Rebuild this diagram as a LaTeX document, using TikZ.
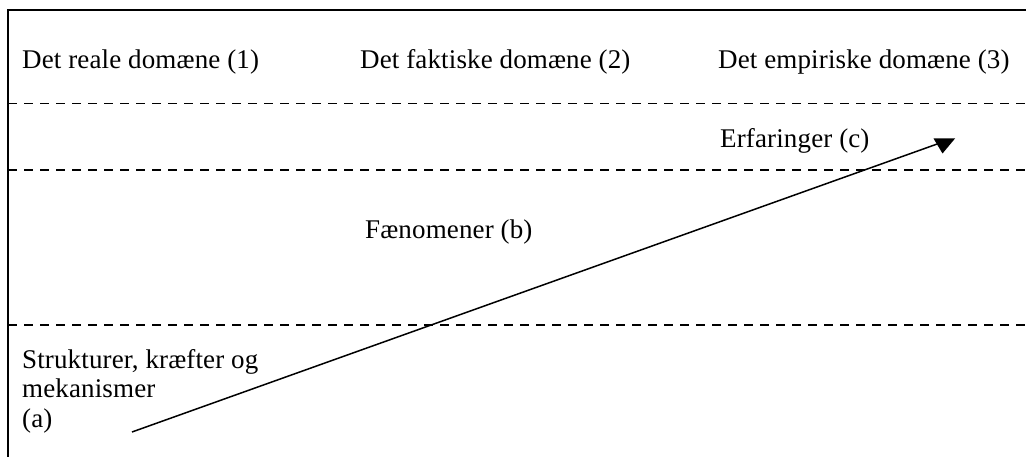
\documentclass[tikz,border=0pt]{standalone}
\usepackage{fontspec}
\setmainfont{Liberation Serif}[LetterSpace=0.5]
\begin{document}
\begin{tikzpicture}[x=1pt,y=-1pt,
  lbl/.style={anchor=base west,inner sep=0pt,font=\fontsize{27}{29.5}\selectfont},
  frame/.style={line width=2pt,black},
  sep/.style={line width=1.9pt,dash pattern=on 9pt off 7pt},
  conn/.style={line width=1.5pt}]
\useasboundingbox (0,0) rectangle (1026,457);
\draw[frame] (8,457) -- (8,10.5) -- (1026,10.5);
\draw[sep] (8,103.5) -- (1026,103.5);
\draw[sep] (8,170) -- (1026,170);
\draw[sep] (8,325) -- (1026,325);
\node[lbl] (d1) at (22,69) {Det reale domæne (1)};
\node[lbl] (d2) at (360,69) {Det faktiske domæne (2)};
\node[lbl] (d3) at (718,69) {Det empiriske domæne (3)};
\node[lbl] (c) at (720,148) {Erfaringer (c)};
\node[lbl] (b) at (365,239) {Fænomener (b)};
\node[lbl,align=left] (a) at (22,427) {Strukturer, kræfter og\\mekanismer\\(a)};
\coordinate (start) at (132,432);
\coordinate (end) at (940,143);
\draw[conn] (start) -- (end);
\fill (933.5,138.5) -- (955,138.5) -- (942.5,153.5) -- cycle;
\end{tikzpicture}
\end{document}
